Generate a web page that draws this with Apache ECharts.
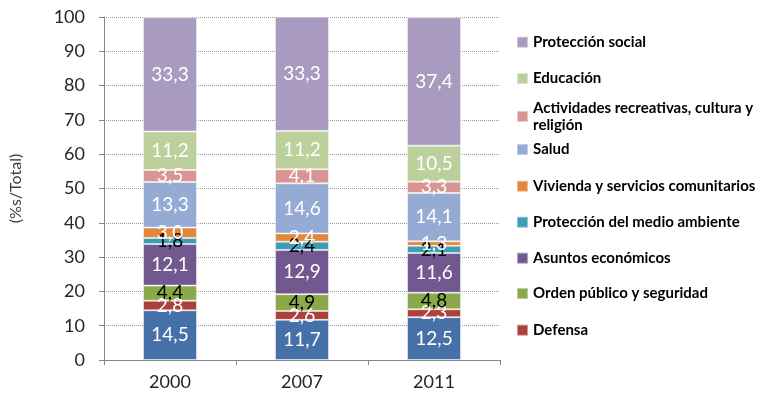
<!DOCTYPE html>
<html style="height: 100%">
<head>
    <meta charset="UTF-8">
    <script src="https://cdn.jsdelivr.net/npm/echarts@6/dist/echarts.min.js"></script>
    <style type="text/css">
        html, body { margin: 0; padding: 0; background: #ffffff; }
    </style>
</head>
<body>
    <div id="paint" style="width: 768px; height: 402px;"></div>
<script>
    // datos (de abajo hacia arriba en la pila)
    var years = ['2000', '2007', '2011'];
    var serviciosGenerales = [14.5, 11.7, 12.5];
    var defensa = [2.8, 2.6, 2.3];
    var ordenPublico = [4.4, 4.9, 4.8];
    var asuntosEconomicos = [12.1, 12.9, 11.6];
    var medioAmbiente = [1.8, 2.4, 2.1];
    var vivienda = [3.0, 2.4, 1.3];
    var salud = [13.3, 14.6, 14.1];
    var actividades = [3.5, 4.1, 3.3];
    var educacion = [11.2, 11.2, 10.5];
    var proteccionSocial = [33.3, 33.3, 37.4];

    var stackDefs = [
        {name: 'Servicios públicos generales', data: serviciosGenerales, color: '#4571A8', label: '#ffffff'},
        {name: 'Defensa', data: defensa, color: '#AE403C', label: '#ffffff'},
        {name: 'Orden público y seguridad', data: ordenPublico, color: '#8BA84A', label: '#000000'},
        {name: 'Asuntos económicos', data: asuntosEconomicos, color: '#71588F', label: '#ffffff'},
        {name: 'Protección del medio ambiente', data: medioAmbiente, color: '#3F9CB5', label: '#000000'},
        {name: 'Vivienda y servicios comunitarios', data: vivienda, color: '#E2873B', label: '#ffffff'},
        {name: 'Salud', data: salud, color: '#95ABD4', label: '#ffffff'},
        {name: 'Actividades recreativas, cultura y religión', data: actividades, color: '#D89594', label: '#ffffff'},
        {name: 'Educación', data: educacion, color: '#BBD09A', label: '#ffffff'},
        {name: 'Protección social', data: proteccionSocial, color: '#A99BC0', label: '#ffffff'}
    ];

    // posiciones de la leyenda (centro vertical de cada entrada)
    var legendRows = [
        ['Protección social', 42.7],
        ['Educación', 79],
        ['Actividades recreativas, cultura y religión', 116.7],
        ['Salud', 150],
        ['Vivienda y servicios comunitarios', 186.7],
        ['Protección del medio ambiente', 222.7],
        ['Asuntos económicos', 258.7],
        ['Orden público y seguridad', 294],
        ['Defensa', 330.7]
    ];

    var series = stackDefs.map(function (s) {
        return {
            name: s.name,
            type: 'bar',
            stack: 'total',
            barWidth: 54,
            data: s.data,
            itemStyle: {color: s.color, borderColor: 'rgba(255,255,255,0.45)', borderWidth: 1},
            label: {
                show: true,
                position: 'inside',
                color: s.label,
                fontFamily: 'Lato',
                fontSize: 19,
                formatter: function (obj) {
                    return obj.value.toFixed(1).replace('.', ',');
                }
            }
        };
    });

    var legends = legendRows.map(function (r) {
        var multi = r[0].indexOf('Actividades') === 0;
        return {
            left: 511,
            top: multi ? r[1] - 30 : r[1] - 13,
            orient: 'vertical',
            itemWidth: 11,
            itemHeight: 11,
            icon: 'rect',
            selectedMode: false,
            data: [r[0]],
            formatter: function (name) {
                return name.replace('cultura y religión', 'cultura y\nreligión');
            },
            textStyle: multi ? {
                fontFamily: 'Lato', fontSize: 15, fontWeight: 'bold', color: '#000000',
                lineHeight: 16.5, padding: [16.5, 0, 0, 0]
            } : {
                fontFamily: 'Lato', fontSize: 15, fontWeight: 'bold', color: '#000000'
            }
        };
    });

    echarts.init(document.getElementById('paint')).setOption({
        backgroundColor: '#ffffff',
        animation: false,
        legend: legends,
        grid: {
            left: 100,
            right: 268,
            top: 17,
            bottom: 42,
            containLabel: false
        },
        xAxis: {
            type: 'category',
            data: years,
            axisLine: {lineStyle: {color: '#868686'}},
            axisTick: {show: true, length: 5, lineStyle: {color: '#868686'}},
            axisLabel: {fontFamily: 'Lato', fontSize: 18, color: '#262626', margin: 13}
        },
        yAxis: {
            type: 'value',
            min: 0,
            max: 100,
            interval: 10,
            name: '(%s/Total)',
            nameLocation: 'middle',
            nameGap: 80,
            nameTextStyle: {fontFamily: 'Lato', fontSize: 16, color: '#404040'},
            axisLine: {show: true, lineStyle: {color: '#868686'}},
            axisTick: {show: true, length: 5, lineStyle: {color: '#868686'}},
            axisLabel: {fontFamily: 'Lato', fontSize: 18, color: '#262626', margin: 19},
            splitLine: {lineStyle: {type: 'dotted', color: '#9a9a9a'}}
        },
        series: series
    });
</script>
</body>
</html>
